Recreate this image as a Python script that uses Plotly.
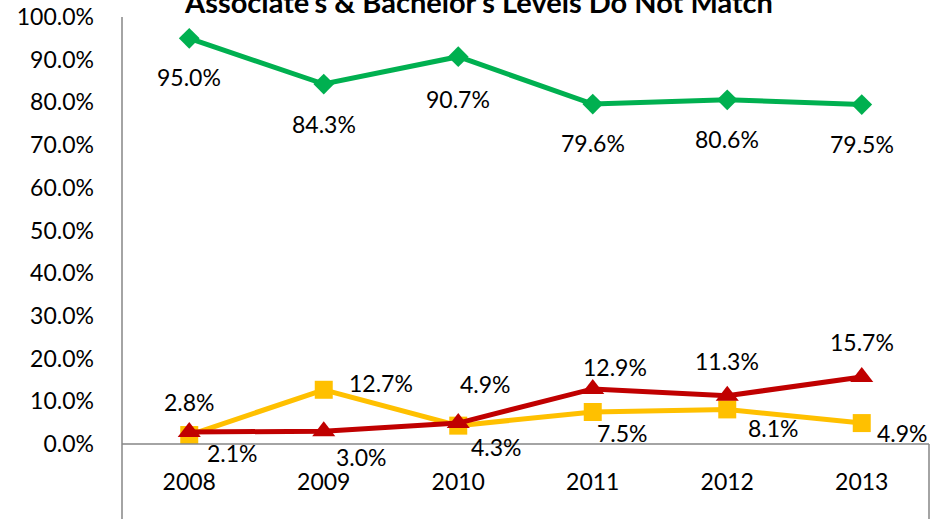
import plotly.graph_objects as go

years = ['2008', '2009', '2010', '2011', '2012', '2013']
match = [95.0, 84.3, 90.7, 79.6, 80.6, 79.5]
assoc = [2.1, 12.7, 4.3, 7.5, 8.1, 4.9]
bach = [2.8, 3.0, 4.9, 12.9, 11.3, 15.7]
title = "Associate's & Bachelor's Levels Do Not Match"

# label offsets in px (x right, y up)
match_off = [(0, -39), (0, -40), (0, -42), (0, -39), (0, -39), (0, -39)]
assoc_off = [(43, -18), (57, 7), (38, -21), (30, -21), (46, -19), (41, -10)]
bach_off = [(0, 30), (38, -26), (27, 39), (22, 22), (0, 35), (0, 35)]

FONT = 'Lato'
GRAY = '#868686'

fig = go.Figure()
series = [
	(match, '#00B050', 'diamond', 16, match_off),
	(assoc, '#FFC000', 'square', 18, assoc_off),
	(bach, '#C00000', 'triangle-up', 20, bach_off),
]
for vals, color, sym, size, offs in series:
	fig.add_trace(go.Scatter(x=years, y=vals, mode='lines+markers',
		line=dict(color=color, width=5),
		marker=dict(symbol=sym, size=size, color=color),
		showlegend=False, cliponaxis=False))
	# numeric x for the category axis, '2008' would be read as a position
	for i, (v, (dx, dy)) in enumerate(zip(vals, offs)):
		fig.add_annotation(x=i, y=v, text=f'{v:.1f}%', showarrow=False,
			xshift=dx, yshift=dy, font=dict(size=23, color='#000000', family=FONT))

# axis lines and the box below the category axis
for x0, y0, x1, y1 in [(0, 0, 1, 0), (0, 1, 0, -0.2), (1, 0, 1, -0.2)]:
	fig.add_shape(type='line', xref='paper', yref='paper', x0=x0, y0=y0, x1=x1, y1=y1,
		line=dict(color=GRAY, width=1.5))

fig.add_annotation(text=f'<b>{title}</b>', xref='paper', yref='paper', x=0.442, y=1.036,
	yanchor='middle', showarrow=False, font=dict(size=29, color='#000000', family=FONT))

fig.update_xaxes(type='category', range=[-0.5, 5.5], showline=False, showgrid=False,
	zeroline=False, ticks='', ticklabelstandoff=22, automargin=False,
	tickfont=dict(size=23, color='#000000', family=FONT))
fig.update_yaxes(range=[0, 100], dtick=10, tickformat='.1f', ticksuffix='%',
	showline=False, showgrid=False, zeroline=False, ticks='', ticklabelstandoff=27,
	automargin=False, tickfont=dict(size=23, color='#000000', family=FONT))

fig.update_layout(width=946, height=519, margin=dict(l=122, r=17, t=17, b=75),
	plot_bgcolor='white', paper_bgcolor='white')

# drop the default 8px body margin so the chart sits at the page corner
fig.write_html('out.html', config={'displayModeBar': False},
	post_script="document.body.style.margin='0';")
